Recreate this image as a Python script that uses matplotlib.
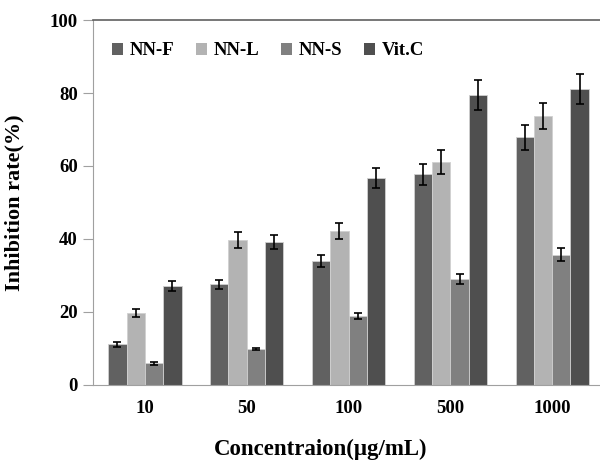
import numpy as np
import matplotlib
matplotlib.use('Agg')
import matplotlib.pyplot as plt

# Inhibition rate at each concentration for the three samples and the Vit.C control
concentrations = ['10', '50', '100', '500', '1000']
series_names = ['NN-F', 'NN-L', 'NN-S', 'Vit.C']
nn_f = [11.2, 27.6, 34.0, 57.7, 67.9]
nn_l = [19.8, 39.7, 42.2, 61.1, 73.6]
nn_s = [5.9, 9.9, 18.8, 29.0, 35.7]
vit_c = [27.2, 39.1, 56.8, 79.5, 81.2]
nn_f_err = [0.7, 1.3, 1.7, 2.9, 3.4]
nn_l_err = [1.1, 2.1, 2.1, 3.2, 3.6]
nn_s_err = [0.3, 0.3, 0.8, 1.4, 1.7]
vit_c_err = [1.4, 1.9, 2.7, 4.1, 4.1]

values = [nn_f, nn_l, nn_s, vit_c]
errors = [nn_f_err, nn_l_err, nn_s_err, vit_c_err]
colors = ['#616161', '#b3b3b3', '#808080', '#4f4f4f']

plt.rcParams['font.family'] = ['Liberation Serif', 'DejaVu Serif']
plt.rcParams['font.weight'] = 'bold'

fig = plt.figure(figsize=(6, 4.62), dpi=100)
ax = fig.add_axes([0.155, 0.1667, 0.845, 0.79])

x = np.arange(len(concentrations))
width = 0.18
for i in range(4):
    pos = x + (i - 1.5) * width
    ax.bar(pos, values[i], width, color=colors[i], edgecolor='#d0d0d0',
           linewidth=0.6, label=series_names[i], zorder=2)
    ax.errorbar(pos, values[i], yerr=errors[i], fmt='none', ecolor='black',
                elinewidth=1.2, capsize=3, capthick=1.2, zorder=3)

ax.set_xlim(-0.51, 4.47)
ax.set_ylim(0, 100)
ax.set_yticks([0, 20, 40, 60, 80, 100])
ax.set_xticks(x)
ax.set_xticklabels(concentrations)
ax.tick_params(axis='y', length=7, color='#a0a0a0', labelsize=13.5, pad=4)
ax.tick_params(axis='x', length=0, labelsize=13.5, pad=11)
for lab in ax.get_xticklabels() + ax.get_yticklabels():
    lab.set_fontweight('bold')

ax.spines['right'].set_visible(False)
ax.spines['top'].set_color('#606060')
ax.spines['top'].set_linewidth(1.2)
ax.spines['left'].set_color('#a0a0a0')
ax.spines['bottom'].set_color('#a0a0a0')

ax.set_xlabel('Concentraion(μg/mL)', fontsize=16.5, fontweight='bold')
ax.xaxis.set_label_coords(0.448, -0.148)
ax.set_ylabel('Inhibition rate(%)', fontsize=16, fontweight='bold', labelpad=18)

leg = ax.legend(ncol=4, loc='upper left', bbox_to_anchor=(0.004, 0.985), frameon=False,
                fontsize=13.5, handlelength=0.6, handleheight=0.6,
                handletextpad=0.35, columnspacing=1.15)
for h in leg.legend_handles:
    h.set_edgecolor('none')

fig.savefig('out.png', dpi=100)
